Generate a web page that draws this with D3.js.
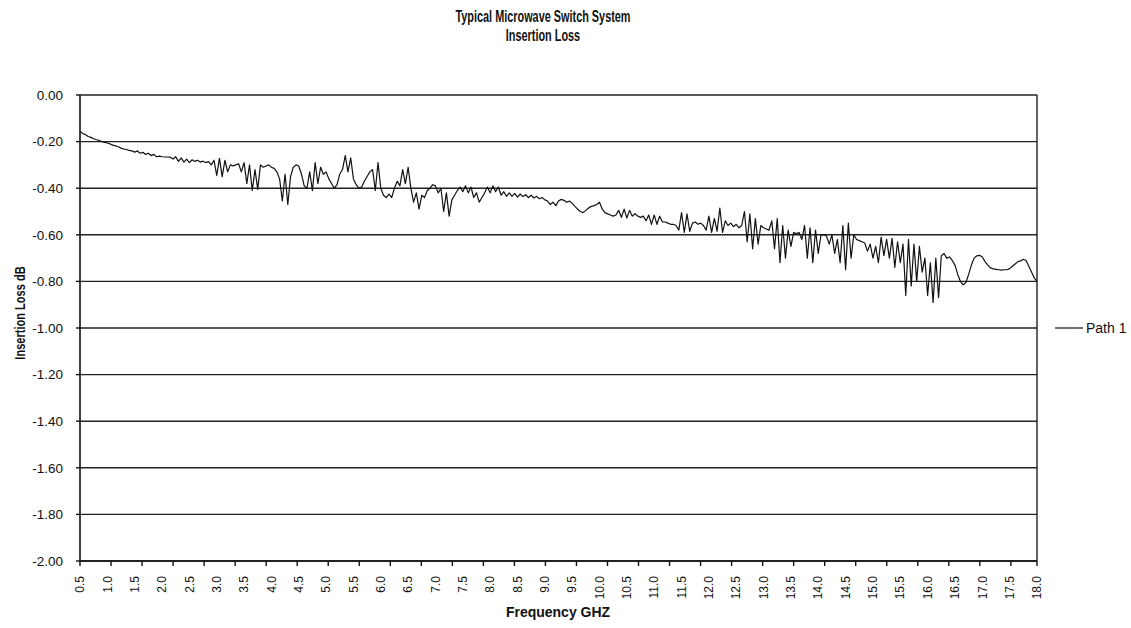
<!DOCTYPE html>
<html>
<head>
<meta charset="utf-8">
<script src="https://cdn.jsdelivr.net/npm/d3@7"></script>
<style>
  body { margin: 0; background: #fff; }
  text { font-family: "Liberation Sans", Arial, sans-serif; fill: #111; }
  .grid line { stroke: #222; stroke-width: 1.4; }
  .trace { fill: none; stroke: #111; stroke-width: 1.2; stroke-linejoin: round; }
</style>
</head>
<body>
<svg width="1131" height="628"></svg>
<script>
(function() {
  // Path 1 insertion loss, one reading every 0.05 GHz starting at 0.5 GHz
  var freqStart = 0.5, freqStep = 0.05;
  var lossValues = [
    -0.155, -0.165, -0.170, -0.178, -0.182, -0.188, -0.192, -0.195, -0.200, -0.203, // 0.5
    -0.206, -0.210, -0.215, -0.218, -0.222, -0.228, -0.232, -0.234, -0.238, -0.240, // 1.0
    -0.245, -0.240, -0.250, -0.246, -0.255, -0.250, -0.260, -0.255, -0.265, -0.262, // 1.5
    -0.265, -0.266, -0.266, -0.267, -0.275, -0.265, -0.285, -0.270, -0.288, -0.275, // 2.0
    -0.290, -0.278, -0.285, -0.280, -0.288, -0.284, -0.290, -0.286, -0.300, -0.280, // 2.5
    -0.345, -0.272, -0.350, -0.280, -0.330, -0.300, -0.305, -0.300, -0.295, -0.330, // 3.0
    -0.290, -0.380, -0.300, -0.410, -0.320, -0.405, -0.300, -0.310, -0.305, -0.300, // 3.5
    -0.310, -0.315, -0.330, -0.360, -0.455, -0.340, -0.470, -0.350, -0.310, -0.300, // 4.0
    -0.305, -0.340, -0.390, -0.400, -0.330, -0.410, -0.290, -0.380, -0.310, -0.340, // 4.5
    -0.330, -0.360, -0.380, -0.400, -0.385, -0.340, -0.320, -0.260, -0.330, -0.270, // 5.0
    -0.360, -0.385, -0.400, -0.395, -0.370, -0.350, -0.330, -0.320, -0.410, -0.290, // 5.5
    -0.400, -0.430, -0.440, -0.425, -0.440, -0.400, -0.370, -0.390, -0.320, -0.380, // 6.0
    -0.310, -0.400, -0.460, -0.420, -0.490, -0.430, -0.440, -0.410, -0.400, -0.385, // 6.5
    -0.390, -0.420, -0.400, -0.500, -0.420, -0.520, -0.450, -0.430, -0.410, -0.395, // 7.0
    -0.415, -0.390, -0.420, -0.395, -0.440, -0.420, -0.460, -0.440, -0.420, -0.395, // 7.5
    -0.420, -0.390, -0.415, -0.395, -0.430, -0.415, -0.435, -0.420, -0.435, -0.422, // 8.0
    -0.438, -0.425, -0.436, -0.428, -0.440, -0.430, -0.442, -0.435, -0.445, -0.440, // 8.5
    -0.450, -0.455, -0.470, -0.460, -0.475, -0.455, -0.448, -0.452, -0.460, -0.455, // 9.0
    -0.465, -0.478, -0.490, -0.500, -0.505, -0.495, -0.485, -0.478, -0.475, -0.470, // 9.5
    -0.460, -0.490, -0.505, -0.510, -0.515, -0.520, -0.515, -0.495, -0.525, -0.490, // 10.0
    -0.528, -0.495, -0.520, -0.510, -0.520, -0.525, -0.520, -0.540, -0.515, -0.555, // 10.5
    -0.515, -0.555, -0.520, -0.545, -0.545, -0.550, -0.555, -0.555, -0.560, -0.580, // 11.0
    -0.505, -0.590, -0.510, -0.585, -0.550, -0.545, -0.555, -0.550, -0.560, -0.580, // 11.5
    -0.520, -0.590, -0.530, -0.585, -0.485, -0.590, -0.540, -0.560, -0.550, -0.565, // 12.0
    -0.555, -0.570, -0.560, -0.500, -0.630, -0.510, -0.660, -0.530, -0.640, -0.560, // 12.5
    -0.570, -0.575, -0.580, -0.540, -0.660, -0.530, -0.720, -0.560, -0.700, -0.580, // 13.0
    -0.650, -0.590, -0.595, -0.590, -0.620, -0.560, -0.700, -0.570, -0.720, -0.580, // 13.5
    -0.680, -0.600, -0.600, -0.605, -0.640, -0.600, -0.680, -0.620, -0.720, -0.560, // 14.0
    -0.750, -0.550, -0.700, -0.600, -0.620, -0.625, -0.630, -0.635, -0.670, -0.640, // 14.5
    -0.700, -0.650, -0.720, -0.610, -0.690, -0.620, -0.700, -0.615, -0.740, -0.630, // 15.0
    -0.720, -0.640, -0.860, -0.620, -0.820, -0.640, -0.800, -0.650, -0.760, -0.700, // 15.5
    -0.860, -0.720, -0.890, -0.700, -0.870, -0.690, -0.680, -0.700, -0.695, -0.710, // 16.0
    -0.730, -0.770, -0.800, -0.815, -0.805, -0.770, -0.730, -0.700, -0.690, -0.688, // 16.5
    -0.695, -0.715, -0.730, -0.742, -0.746, -0.748, -0.750, -0.752, -0.750, -0.750, // 17.0
    -0.745, -0.735, -0.725, -0.715, -0.712, -0.705, -0.710, -0.735, -0.760, -0.785, // 17.5
    -0.800                                                                          // 18.0
  ];

  var xLabels = ["0.5","1.0","1.5","2.0","2.5","3.0","3.5","4.0","4.5","5.0","5.5","6.0",
                 "6.5","7.0","7.5","8.0","8.5","9.0","9.5","10.0","10.5","11.0","11.5","12.0",
                 "12.5","13.0","13.5","14.0","14.5","15.0","15.5","16.0","16.5","17.0","17.5","18.0"];
  var yTicks = [0, -0.2, -0.4, -0.6, -0.8, -1.0, -1.2, -1.4, -1.6, -1.8, -2.0];
  var yLabels = ["0.00","-0.20","-0.40","-0.60","-0.80","-1.00","-1.20","-1.40","-1.60","-1.80","-2.00"];
  var seriesName = "Path 1";

  var svg = d3.select("svg");
  var left = 80, right = 1037, top = 95, bottom = 561;

  var x = d3.scaleLinear().domain([0.5, 18.0]).range([left, right]);
  var y = d3.scaleLinear().domain([-2.0, 0]).range([bottom, top]);

  var data = lossValues.map(function(v, i) {
    return { f: freqStart + i * freqStep, v: v };
  });

  // titles (the original uses a condensed bold face)
  svg.append("text")
      .attr("transform", "translate(543,22) scale(0.68,1)")
      .attr("text-anchor", "middle")
      .attr("font-weight", "bold")
      .attr("font-size", 16)
      .text("Typical Microwave Switch System");
  svg.append("text")
      .attr("transform", "translate(543,41) scale(0.68,1)")
      .attr("text-anchor", "middle")
      .attr("font-weight", "bold")
      .attr("font-size", 16)
      .text("Insertion Loss");

  // horizontal gridlines
  svg.append("g")
      .attr("class", "grid")
    .selectAll("line")
    .data(yTicks)
    .enter().append("line")
      .attr("x1", left).attr("x2", right)
      .attr("y1", function(d) { return y(d); })
      .attr("y2", function(d) { return y(d); });

  // frame sides
  svg.append("line")
      .attr("x1", left).attr("x2", left).attr("y1", top).attr("y2", bottom)
      .attr("stroke", "#111").attr("stroke-width", 1.6);
  svg.append("line")
      .attr("x1", right).attr("x2", right).attr("y1", top).attr("y2", bottom)
      .attr("stroke", "#222").attr("stroke-width", 1.4);

  // y axis ticks + labels
  var yAxis = svg.append("g");
  yAxis.selectAll("line")
    .data(yTicks)
    .enter().append("line")
      .attr("x1", left - 4).attr("x2", left)
      .attr("y1", function(d) { return y(d); })
      .attr("y2", function(d) { return y(d); })
      .attr("stroke", "#111").attr("stroke-width", 1.4);
  yAxis.selectAll("text")
    .data(yTicks)
    .enter().append("text")
      .attr("x", 63)
      .attr("y", function(d) { return y(d); })
      .attr("dy", "0.35em")
      .attr("text-anchor", "end")
      .attr("font-size", 13.5)
      .text(function(d, i) { return yLabels[i]; });

  // x axis: tick marks every ~0.567 GHz (Excel category spacing), labels every 0.5 GHz
  var xTickPos = d3.range(0.5, 18.0, 0.5674).concat([18.0]);
  svg.append("line")
      .attr("x1", left).attr("x2", right).attr("y1", bottom).attr("y2", bottom)
      .attr("stroke", "#111").attr("stroke-width", 1.6);
  svg.append("g").selectAll("line")
    .data(xTickPos)
    .enter().append("line")
      .attr("x1", function(d) { return x(d); })
      .attr("x2", function(d) { return x(d); })
      .attr("y1", bottom).attr("y2", bottom + 5)
      .attr("stroke", "#111").attr("stroke-width", 1.4);
  svg.append("g").selectAll("text")
    .data(xLabels)
    .enter().append("text")
      .attr("transform", function(d) { return "translate(" + x(+d) + "," + 576 + ") rotate(-90)"; })
      .attr("dy", "0.35em")
      .attr("text-anchor", "end")
      .attr("font-size", 12)
      .text(function(d) { return d; });

  // axis titles
  svg.append("text")
      .attr("x", 558).attr("y", 617)
      .attr("text-anchor", "middle")
      .attr("font-weight", "bold")
      .attr("font-size", 14)
      .text("Frequency GHZ");
  svg.append("text")
      .attr("transform", "translate(25,313) rotate(-90) scale(0.79,1)")
      .attr("text-anchor", "middle")
      .attr("font-weight", "bold")
      .attr("font-size", 14)
      .text("Insertion Loss dB");

  // trace
  var line = d3.line()
      .x(function(d) { return x(d.f); })
      .y(function(d) { return y(d.v); });
  svg.append("path")
      .datum(data)
      .attr("class", "trace")
      .attr("d", line);

  // legend
  var lg = svg.append("g").attr("transform", "translate(1055,328)");
  lg.append("line")
      .attr("x1", 0).attr("x2", 28).attr("y1", 0).attr("y2", 0)
      .attr("stroke", "#111").attr("stroke-width", 1.2);
  lg.append("text")
      .attr("x", 31).attr("dy", "0.35em")
      .attr("font-size", 14)
      .text(seriesName);
})();
</script>
</body>
</html>
